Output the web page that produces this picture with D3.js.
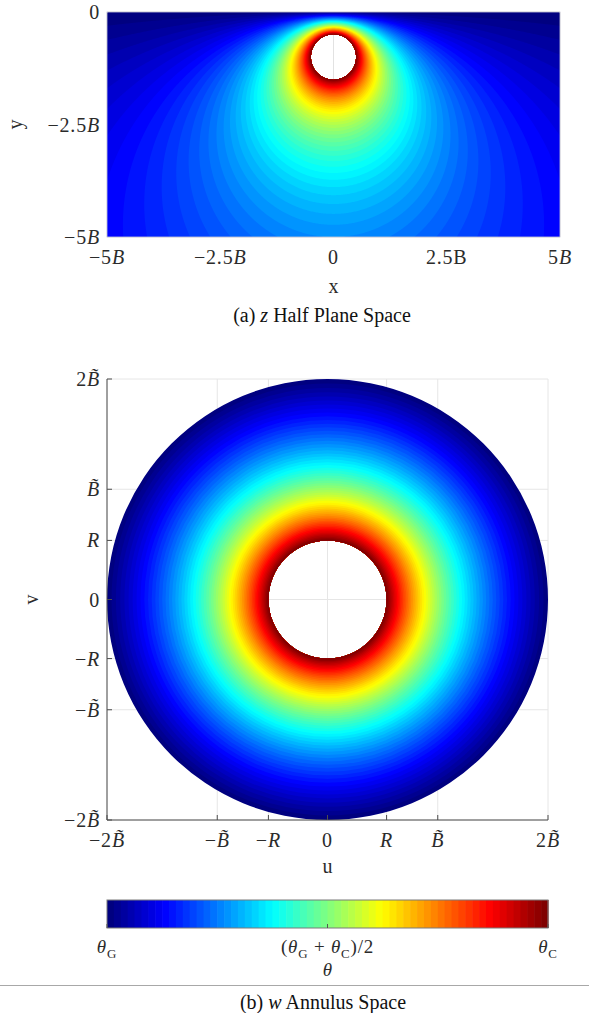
<!DOCTYPE html>
<html>
<head>
<meta charset="utf-8">
<script src="https://cdn.jsdelivr.net/npm/d3@7"></script>
<style>
  body { margin: 0; background: #fff; }
  text { font-family: "Liberation Serif", "Times New Roman", serif; fill: #2b2b2b; }
  text.tick { letter-spacing: 0.8px; }
  text.cap { fill: #111; }
</style>
</head>
<body>
<svg id="fig" width="589" height="1013"></svg>
<script>
// ---- jet colour map ----
const jetStops  = [0, 0.125, 0.375, 0.625, 0.875, 1];
const jetColors = ["#000080", "#0000ff", "#00ffff", "#ffff00", "#ff0000", "#800000"];
const nLevels = 64;

// ---- buried pipe geometry (lengths in units of B) ----
const pipeDepth  = 1.0;   // depth of the pipe axis below the surface y = 0
const pipeRadius = 0.5;   // pipe radius

// ---- half-plane (z) axes ----
const xDomain = [-5, 5];
const yDomain = [-5, 0];
const xTicks = [-5, -2.5, 0, 2.5, 5];
const xTickLabels = ["−5$B$", "−2.5$B$", "0", "2.5B", "5$B$"];
const yTicks = [0, -2.5, -5];
const yTickLabels = ["0", "−2.5$B$", "−5$B$"];

// ---- annulus (w) axes, in units of B~ ----
const ratio = 1 / (pipeDepth / pipeRadius + Math.sqrt((pipeDepth / pipeRadius) ** 2 - 1));
const outerRadius = 2;                    // outer circle radius: 2B~
const innerRadius = outerRadius * ratio;  // inner circle radius: R
const uDomain = [-2, 2];
const uTicks = [-2, -1, -innerRadius, 0, innerRadius, 1, 2];
const uTickLabels = ["−2$B\u0303$", "−$B\u0303$", "−$R$", "0", "$R$", "$B\u0303$", "2$B\u0303$"];
const vTicks = uTicks;
const vTickLabels = uTickLabels;

// ---- colour bar ----
const cbarTicks = [0, 0.5, 1];
const cbarTickLabels = ["$θ$_G", "($θ$_G + $θ$_C)/2", "$θ$_C"];

// ---- captions ----
const captionA = "(a) $z$ Half Plane Space";
const captionB = "(b) $w$ Annulus Space";

const jet = d3.scaleLinear().domain(jetStops).range(jetColors).interpolate(d3.interpolateRgb).clamp(true);
const levelColor = k => jet(k / (nLevels - 1));

const svg = d3.select("#fig");

// Rich text: $..$ toggles italic, _X is an upright subscript character.
function parseRuns(str) {
  const runs = [];
  let italic = false, buf = "";
  const push = (text, it, sub) => { if (text) runs.push({ text, italic: it, sub }); };
  for (let i = 0; i < str.length; i++) {
    const c = str[i];
    if (c === "$") { push(buf, italic, false); buf = ""; italic = !italic; continue; }
    if (c === "_") { push(buf, italic, false); buf = ""; push(str[i + 1], false, true); i++; continue; }
    buf += c;
  }
  push(buf, italic, false);
  return runs;
}
function richText(g, str, x, y, anchor, size, cls) {
  const t = g.append("text").attr("x", x).attr("y", y)
    .attr("text-anchor", anchor).style("font-size", size + "px");
  if (cls) t.attr("class", cls);
  const shift = size * 0.25;
  let lowered = false;
  parseRuns(str).forEach(r => {
    const s = t.append("tspan").text(r.text);
    if (r.italic) s.style("font-style", "italic");
    if (r.sub) {
      s.style("font-size", (size * 0.68) + "px");
      if (!lowered) { s.attr("dy", shift); lowered = true; }
    } else if (lowered) {
      s.attr("dy", -shift); lowered = false;
    }
  });
  return t;
}

// =================== (a) half plane ===================
const xS = d3.scaleLinear().domain(xDomain).range([107, 560]);
const yS = d3.scaleLinear().domain(yDomain).range([237, 12]);
const gA = svg.append("g");

// grid (only visible through the pipe hole)
gA.append("g").selectAll("line").data(xTicks).join("line")
  .attr("x1", d => xS(d)).attr("x2", d => xS(d)).attr("y1", yS(0)).attr("y2", yS(-5))
  .attr("stroke", "#e2e2e2").attr("stroke-width", 1);
gA.append("g").selectAll("line").data(yTicks).join("line")
  .attr("y1", d => yS(d)).attr("y2", d => yS(d)).attr("x1", xS(-5)).attr("x2", xS(5))
  .attr("stroke", "#e2e2e2").attr("stroke-width", 1);

// temperature field in bipolar coordinates
const poleDist = Math.sqrt(pipeDepth ** 2 - pipeRadius ** 2);
const psiPipe = -Math.acosh(pipeDepth / pipeRadius);
function fieldValue(x, y) {
  const num = x * x + (y + poleDist) ** 2;
  const den = x * x + (y - poleDist) ** 2;
  const t = 0.5 * Math.log(num / den) / psiPipe;
  return Number.isFinite(t) ? Math.min(Math.max(t, 0), 2) : 2;
}
const nx = 453, ny = 225;
const values = new Float64Array(nx * ny);
for (let j = 0; j < ny; j++) {
  const y = yDomain[1] - (j + 0.5) * (yDomain[1] - yDomain[0]) / ny;
  for (let i = 0; i < nx; i++) {
    const x = xDomain[0] + (i + 0.5) * (xDomain[1] - xDomain[0]) / nx;
    values[j * nx + i] = fieldValue(x, y);
  }
}
const thresholds = d3.range(nLevels).map(k => k / nLevels);
const bands = d3.contours().size([nx, ny]).thresholds(thresholds)(values);
const gridProj = d3.geoTransform({
  point: function (px, py) {
    this.stream.point(
      xS(xDomain[0] + px * (xDomain[1] - xDomain[0]) / nx),
      yS(yDomain[1] - py * (yDomain[1] - yDomain[0]) / ny));
  }
});
const bandPath = d3.geoPath(gridProj);

// clip: the domain minus the pipe cross-section
const cx = xS(0), cy = yS(-pipeDepth), cr = xS(pipeRadius) - xS(0);
const clipD = `M${xS(-5)},${yS(0)}H${xS(5)}V${yS(-5)}H${xS(-5)}Z` +
  `M${cx - cr},${cy}a${cr},${cr} 0 1,0 ${2 * cr},0a${cr},${cr} 0 1,0 ${-2 * cr},0Z`;
svg.append("defs").append("clipPath").attr("id", "holeClip")
  .append("path").attr("d", clipD).attr("clip-rule", "evenodd");

gA.append("g").attr("clip-path", "url(#holeClip)")
  .selectAll("path").data(bands).join("path")
  .attr("d", bandPath)
  .attr("fill", (d, k) => levelColor(k));

gA.append("rect").attr("x", xS(-5)).attr("y", yS(0))
  .attr("width", xS(5) - xS(-5)).attr("height", yS(-5) - yS(0))
  .attr("fill", "none").attr("stroke", "#c9c9d6").attr("stroke-width", 0.8);

xTicks.forEach((v, k) => richText(gA, xTickLabels[k], xS(v), 264, "middle", 20, "tick"));
yTicks.forEach((v, k) => richText(gA, yTickLabels[k], 100, yS(v) + 7, "end", 20, "tick"));
gA.append("text").attr("x", xS(0)).attr("y", 293).attr("text-anchor", "middle")
  .style("font-size", "20px").text("x");
gA.append("text").attr("transform", `translate(22,${yS(-2.5)}) rotate(-90)`)
  .attr("text-anchor", "middle").style("font-size", "20px").text("y");
richText(gA, captionA, 322, 322, "middle", 20, "cap");

// =================== (b) annulus ===================
const uS = d3.scaleLinear().domain(uDomain).range([107, 548]);
const vS = d3.scaleLinear().domain(uDomain).range([820, 379]);
const rS = d3.scaleLinear().domain([0, 2]).range([0, uS(2) - uS(0)]);
const gB = svg.append("g");

gB.append("g").selectAll("line").data(uTicks).join("line")
  .attr("x1", d => uS(d)).attr("x2", d => uS(d)).attr("y1", vS(2)).attr("y2", vS(-2))
  .attr("stroke", "#e6e6e6").attr("stroke-width", 1);
gB.append("g").selectAll("line").data(vTicks).join("line")
  .attr("y1", d => vS(d)).attr("y2", d => vS(d)).attr("x1", uS(-2)).attr("x2", uS(2))
  .attr("stroke", "#e6e6e6").attr("stroke-width", 1);

// rings: level k covers radii where the log profile exceeds k/nLevels
const ringArc = d3.arc().startAngle(0).endAngle(2 * Math.PI);
gB.append("g").attr("transform", `translate(${uS(0)},${vS(0)})`)
  .selectAll("path").data(d3.range(nLevels)).join("path")
  .attr("d", k => ringArc({
    innerRadius: rS(innerRadius),
    outerRadius: rS(outerRadius * Math.exp((k / nLevels) * psiPipe))
  }))
  .attr("fill", k => levelColor(k));

// axes (left and bottom) with inward ticks
const axisColor = "#4d4d4d";
gB.append("line").attr("x1", uS(-2)).attr("x2", uS(-2)).attr("y1", vS(2)).attr("y2", vS(-2))
  .attr("stroke", axisColor).attr("stroke-width", 1);
gB.append("line").attr("x1", uS(-2)).attr("x2", uS(2)).attr("y1", vS(-2)).attr("y2", vS(-2))
  .attr("stroke", axisColor).attr("stroke-width", 1);
gB.append("g").selectAll("line").data(uTicks).join("line")
  .attr("x1", d => uS(d)).attr("x2", d => uS(d)).attr("y1", vS(-2)).attr("y2", vS(-2) - 5)
  .attr("stroke", axisColor);
gB.append("g").selectAll("line").data(vTicks).join("line")
  .attr("y1", d => vS(d)).attr("y2", d => vS(d)).attr("x1", uS(-2)).attr("x2", uS(-2) + 5)
  .attr("stroke", axisColor);

uTicks.forEach((v, k) => richText(gB, uTickLabels[k], uS(v), 847, "middle", 20, "tick"));
vTicks.forEach((v, k) => richText(gB, vTickLabels[k], 100, vS(v) + 7, "end", 20, "tick"));
gB.append("text").attr("x", uS(0)).attr("y", 873).attr("text-anchor", "middle")
  .style("font-size", "20px").text("u");
gB.append("text").attr("transform", `translate(38,${vS(0)}) rotate(-90)`)
  .attr("text-anchor", "middle").style("font-size", "20px").text("v");

// colour bar
const cS = d3.scaleLinear().domain([0, 1]).range([107, 548]);
const gC = svg.append("g");
gC.selectAll("rect").data(d3.range(nLevels)).join("rect")
  .attr("x", k => cS(k / nLevels)).attr("y", 900)
  .attr("width", k => cS((k + 1) / nLevels) - cS(k / nLevels) + 0.6).attr("height", 28)
  .attr("fill", k => levelColor(k));
gC.append("rect").attr("x", cS(0)).attr("y", 900).attr("width", cS(1) - cS(0)).attr("height", 28)
  .attr("fill", "none").attr("stroke", "#7a7a7a").attr("stroke-width", 1);
gC.append("g").selectAll("line").data(cbarTicks).join("line")
  .attr("x1", d => cS(d)).attr("x2", d => cS(d)).attr("y1", 928).attr("y2", 924)
  .attr("stroke", "#555");
cbarTicks.forEach((v, k) => richText(gC, cbarTickLabels[k], cS(v), 953, "middle", 19, "tick"));
richText(gC, "$θ$", cS(0.5), 976, "middle", 19);

// separator and caption
svg.append("line").attr("x1", 0).attr("x2", 589).attr("y1", 985.5).attr("y2", 985.5)
  .attr("stroke", "#a8a8a8").attr("stroke-width", 1);
richText(svg, captionB, 323, 1009, "middle", 20, "cap");
</script>
</body>
</html>
